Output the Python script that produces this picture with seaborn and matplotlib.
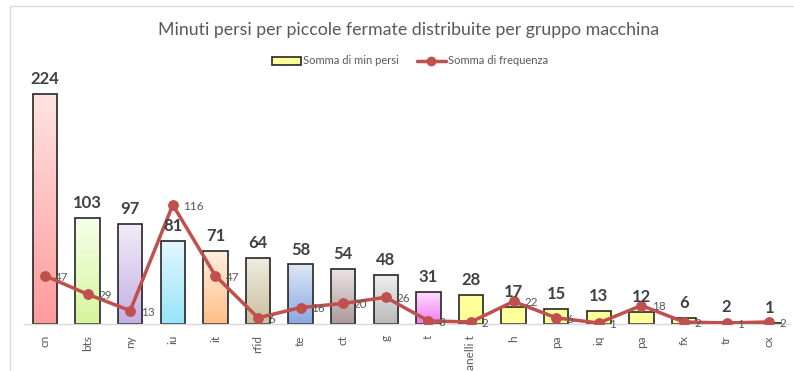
import numpy as np
import pandas as pd
import matplotlib
matplotlib.use("Agg")
import matplotlib.pyplot as plt
from matplotlib.colors import to_rgb
from matplotlib.patches import Rectangle, Patch
from matplotlib.lines import Line2D
import seaborn as sns

# Machine groups (the "pa" group appears twice)
categories = ["cn", "bts", "ny", "iu", "it", "rfid", "te", "ct", "g", "t",
              "anelli t", "h", "pa", "iq", "pa", "fx", "tr", "cx"]
min_persi = [224, 103, 97, 81, 71, 64, 58, 54, 48, 31, 28, 17, 15, 13, 12, 6, 2, 1]
frequenza = [47, 29, 13, 116, 47, 6, 16, 20, 26, 3, 2, 22, 6, 1, 18, 2, 1, 2]

# Gradient colours for the bars (top, bottom)
yellow = ("#ffff99", "#ffff99")
bar_gradients = [
    ("#ffe3e3", "#ff9a9a"),
    ("#f6ffea", "#d5f59c"),
    ("#f1ebf8", "#c6afe6"),
    ("#e3f7ff", "#98e4f8"),
    ("#ffefe0", "#ffbf88"),
    ("#efece0", "#c8bf9c"),
    ("#dfe7f6", "#88a8e4"),
    ("#ebe4e4", "#ad9999"),
    ("#f0f0f0", "#bababa"),
    ("#ffdcff", "#ee7cee"),
] + [yellow] * 8

title = "Minuti persi per piccole fermate distribuite per gruppo macchina"
label_bar = "Somma di min persi"
label_line = "Somma di frequenza"

sns.set_theme(style="white")
plt.rcParams["font.family"] = ["Lato", "DejaVu Sans"]

W, H = 794, 371
fig = plt.figure(figsize=(W / 100, H / 100), dpi=100)

# outer chart frame
fig.patches.append(Rectangle((9.5 / W, -0.2), 1.2, (H - 5.5) / H + 0.2,
                             transform=fig.transFigure, fill=False,
                             edgecolor="#d9d9d9", linewidth=1.0))

ax = fig.add_axes([23.7 / W, (H - 324) / H, (790.5 - 23.7) / W, (324 - 67.3) / H])

df = pd.DataFrame({"pos": np.arange(len(categories)),
                   "min": min_persi, "freq": frequenza})

sns.barplot(data=df, x="pos", y="min", ax=ax, width=0.57,
            color="#ffff99", edgecolor="#262626", linewidth=1.2,
            saturation=1, zorder=2)

# gradient fill clipped to each bar
for patch, (top, bottom) in zip(ax.patches, bar_gradients):
    x0, y0 = patch.get_x(), patch.get_y()
    w, h = patch.get_width(), patch.get_height()
    t = np.linspace(0, 1, 64)[:, None]
    c_top, c_bot = np.array(to_rgb(top)), np.array(to_rgb(bottom))
    img = (1 - t)[..., None] * c_top + t[..., None] * c_bot
    img = np.repeat(img, 2, axis=1)
    im = ax.imshow(img, extent=[x0, x0 + w, y0, y0 + h], aspect="auto",
                   origin="upper", zorder=2.1, interpolation="bilinear")
    im.set_clip_path(patch)
    patch.set_facecolor("none")
    patch.set_zorder(2.2)

sns.lineplot(data=df, x="pos", y="freq", ax=ax, color="#c0504d",
             linewidth=2.5, marker="o", markersize=7,
             markeredgecolor="#c0504d", zorder=3)

# value labels on bars
for xi, v in zip(df["pos"], min_persi):
    ax.annotate(f"{v}", (xi, v), xytext=(0, 5), textcoords="offset points",
                ha="center", va="bottom", fontsize=12, fontweight="bold",
                color="#404040", zorder=4)

# value labels on the line
for xi, v in zip(df["pos"], frequenza):
    ax.annotate(f"{v}", (xi, v), xytext=(7.5, -1), textcoords="offset points",
                ha="left", va="center", fontsize=8.5, color="#595959", zorder=4)

ax.set_xlim(-0.5, len(categories) - 0.5)
ax.set_ylim(0, 250)
ax.set_xticks(range(len(categories)))
ax.set_xticklabels(categories, rotation=90, fontsize=8.5, color="#595959")
ax.tick_params(axis="x", length=0, pad=8)
ax.set_yticks([])
ax.set_xlabel("")
ax.set_ylabel("")
for side in ["left", "right", "top"]:
    ax.spines[side].set_visible(False)
ax.spines["bottom"].set_color("#d9d9d9")
ax.spines["bottom"].set_linewidth(1.0)
ax.set_facecolor("none")
if ax.get_legend():
    ax.get_legend().remove()

fig.text(0.514, 1 - 30 / H, title, ha="center", va="center",
         fontsize=12.8, color="#595959")

handles = [Patch(facecolor="#ffff99", edgecolor="#262626", linewidth=1.2),
           Line2D([0], [0], color="#c0504d", linewidth=2.5, marker="o",
                  markersize=6)]
fig.legend(handles, [label_bar, label_line], loc="center",
           bbox_to_anchor=(410 / W, 1 - 61 / H), ncol=2, frameon=False,
           fontsize=8, labelcolor="#595959", handlelength=2.6,
           handletextpad=0.2, columnspacing=1.6)

fig.savefig("out.png", dpi=100)
